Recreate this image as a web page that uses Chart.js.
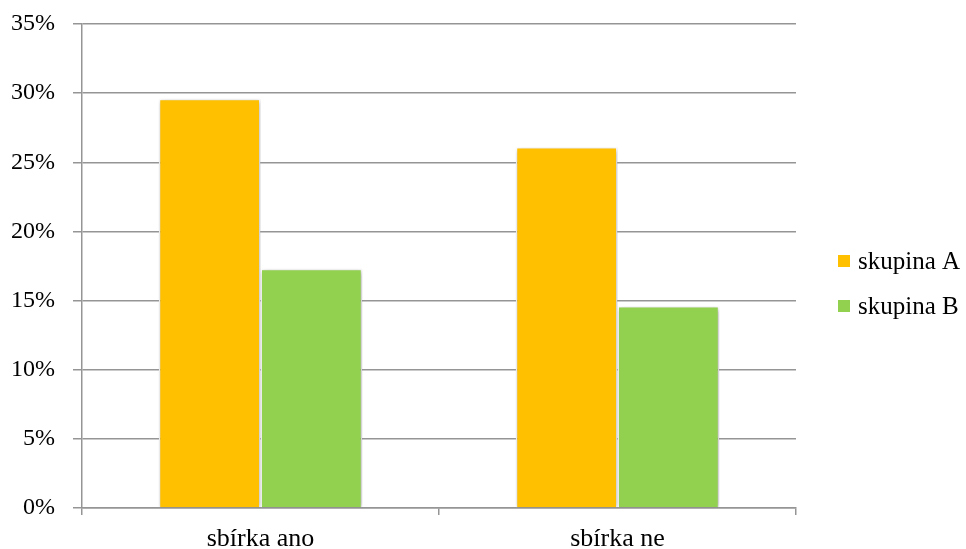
<!DOCTYPE html>
<html>
<head>
<meta charset="utf-8">
<script src="https://cdn.jsdelivr.net/npm/chart.js@4/dist/chart.umd.min.js"></script>
<style>
  html, body { margin: 0; padding: 0; background: #ffffff; }
  #wrap { width: 966px; height: 549px; }
</style>
</head>
<body>
<div id="wrap"><canvas id="c" width="966" height="549"></canvas></div>
<script>
// Categories and shares per group (in %)
const categories = ['sbírka ano', 'sbírka ne'];
const groupA = [29.6, 26.1];
const groupB = [17.3, 14.6];
const seriesNames = ['skupina A', 'skupina B'];
const yTicks = [0, 5, 10, 15, 20, 25, 30, 35];

const FONT = "'Liberation Serif', 'Times New Roman', serif";
const GRID = '#959595';

// soft drop shadow under the bars
const barShadow = {
  id: 'barShadow',
  beforeDatasetsDraw(chart) {
    const ctx = chart.ctx;
    ctx.save();
    ctx.shadowColor = 'rgba(0,0,0,0.3)';
    ctx.shadowBlur = 5;
    ctx.shadowOffsetX = 1;
    ctx.shadowOffsetY = 1;
  },
  afterDatasetsDraw(chart) {
    chart.ctx.restore();
  }
};

// legend to the right of the plot
const sideLegend = {
  id: 'sideLegend',
  afterDraw(chart) {
    const ctx = chart.ctx;
    const area = chart.chartArea;
    const x = area.right + 42;
    let y = 261;
    ctx.save();
    ctx.font = '25px ' + FONT;
    ctx.textBaseline = 'middle';
    ctx.textAlign = 'left';
    chart.data.datasets.forEach(ds => {
      ctx.fillStyle = ds.backgroundColor;
      ctx.fillRect(x, y - 6, 12, 12);
      ctx.fillStyle = '#000000';
      ctx.fillText(ds.label, x + 20, y + 1);
      y += 45;
    });
    ctx.restore();
  }
};

new Chart(document.getElementById('c'), {
  type: 'bar',
  data: {
    labels: categories,
    datasets: [
      { label: seriesNames[0], data: groupA, backgroundColor: '#FFC000', borderColor: '#ffffff', borderWidth: 1.5 },
      { label: seriesNames[1], data: groupB, backgroundColor: '#92D050', borderColor: '#ffffff', borderWidth: 1.5 }
    ]
  },
  options: {
    responsive: false,
    animation: false,
    devicePixelRatio: 1,
    layout: { padding: { left: 0, right: 170, top: 0, bottom: 0 } },
    datasets: { bar: { categoryPercentage: 0.57, barPercentage: 1.0 } },
    plugins: {
      legend: { display: false },
      tooltip: { enabled: false }
    },
    scales: {
      x: {
        offset: true,
        afterFit(axis) { axis.height = 41; axis.paddingLeft = 0; axis.paddingRight = 0; },
        grid: { offset: true, drawOnChartArea: false, drawTicks: true, tickLength: 7, color: GRID, lineWidth: 1.5 },
        border: { display: true, color: GRID, width: 1.5 },
        ticks: { color: '#000000', font: { family: FONT, size: 26, lineHeight: 1 }, padding: 11 }
      },
      y: {
        min: 0,
        max: 35,
        afterBuildTicks(axis) { axis.ticks = yTicks.map(v => ({ value: v })); },
        afterFit(axis) { axis.width = 82; axis.paddingTop = 24; axis.paddingBottom = 0; },
        grid: { color: GRID, lineWidth: 1.5, drawTicks: true, tickLength: 9 },
        border: { display: true, color: GRID, width: 1.5 },
        ticks: { color: '#000000', font: { family: FONT, size: 24 }, padding: 18, callback: v => v + '%' }
      }
    }
  },
  plugins: [barShadow, sideLegend]
});
</script>
</body>
</html>
